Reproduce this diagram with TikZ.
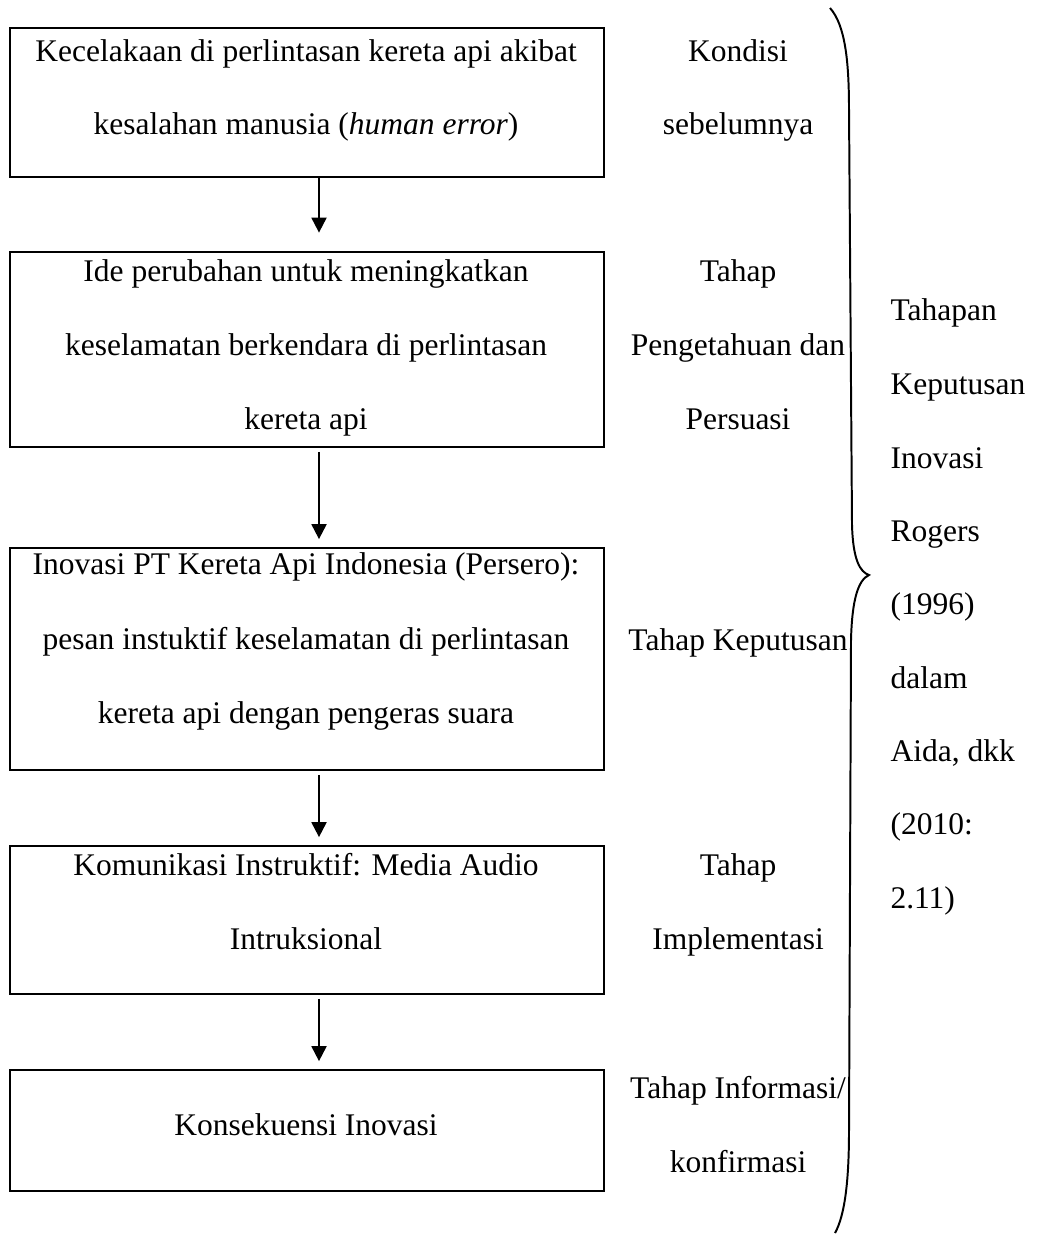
\documentclass[tikz,border=0pt]{standalone}
\usepackage{fontspec}
\setmainfont{Liberation Serif}
\usetikzlibrary{arrows.meta}
\def\px{0.381pt}

\begin{document}
\begin{tikzpicture}[x=\px, y=-\px,
  font=\fontsize{12pt}{14pt}\selectfont,
  stagebox/.style={draw, line width=0.75pt, anchor=north west, minimum width=594*\px, inner sep=0pt},
  txt/.style={anchor=base, inner sep=0pt},
  note/.style={anchor=base west, inner sep=0pt},
  flowarrow/.style={-{Triangle[length=5.7pt, width=5.7pt]}, line width=0.75pt}]
\useasboundingbox (0,0) rectangle (1036,1234);

% boxes
\node[stagebox, minimum height=149*\px] (b1) at (9,27) {};
\node[stagebox, minimum height=195*\px] (b2) at (9,251) {};
\node[stagebox, minimum height=222*\px] (b3) at (9,547) {};
\node[stagebox, minimum height=148*\px] (b4) at (9,845) {};
\node[stagebox, minimum height=121*\px] (b5) at (9,1069) {};

% box texts
\node[txt] (t1a) at (306,62) {Kecelakaan di perlintasan kereta api akibat};
\node[txt] (t1b) at (306,135) {kesalahan manusia (\textit{human error})};
\node[txt] (t2a) at (306,282) {Ide perubahan untuk meningkatkan};
\node[txt] (t2b) at (306,356) {keselamatan berkendara di perlintasan};
\node[txt] (t2c) at (306,429) {kereta api};
\node[txt] (t3a) at (306,574) {Inovasi PT Kereta Api Indonesia (Persero):};
\node[txt] (t3b) at (306,649) {pesan instuktif keselamatan di perlintasan};
\node[txt] (t3c) at (306,723) {kereta api dengan pengeras suara};
\node[txt] (t4a) at (306,875) {Komunikasi Instruktif: Media Audio};
\node[txt] (t4b) at (306,949) {Intruksional};
\node[txt] (t5a) at (306,1135) {Konsekuensi Inovasi};

% stage labels
\node[txt] (s1a) at (738,62) {Kondisi};
\node[txt] (s1b) at (738,135) {sebelumnya};
\node[txt] (s2a) at (738,282) {Tahap};
\node[txt] (s2b) at (738,356) {Pengetahuan dan};
\node[txt] (s2c) at (738,429) {Persuasi};
\node[txt] (s3a) at (738,650) {Tahap Keputusan};
\node[txt] (s4a) at (738,875) {Tahap};
\node[txt] (s4b) at (738,949) {Implementasi};
\node[txt] (s5a) at (738,1098) {Tahap Informasi/};
\node[txt] (s5b) at (738,1172) {konfirmasi};

% source
\node[note] (r1) at (890,321) {Tahapan};
\node[note] (r2) at (890,394) {Keputusan};
\node[note] (r3) at (890,468) {Inovasi};
\node[note] (r4) at (890,541) {Rogers};
\node[note] (r5) at (890,614) {(1996)};
\node[note] (r6) at (890,688) {dalam};
\node[note] (r7) at (890,761) {Aida, dkk};
\node[note] (r8) at (890,834) {(2010:};
\node[note] (r9) at (890,908) {2.11)};

% arrows
\coordinate (ax) at (319,0);
\draw[flowarrow, shorten >=7pt] (b1.south -| ax) -- (b2.north -| ax);
\draw[flowarrow, shorten <=1.5pt, shorten >=3pt] (b2.south -| ax) -- (b3.north -| ax);
\draw[flowarrow, shorten <=1.5pt, shorten >=3pt] (b3.south -| ax) -- (b4.north -| ax);
\draw[flowarrow, shorten <=1.5pt, shorten >=3pt] (b4.south -| ax) -- (b5.north -| ax);

% brace
\draw[line width=0.75pt] (830,8) .. controls (845,25) and (849,60) .. (849,110)
  -- (852,525) .. controls (853,560) and (860,572) .. (869,575)
  .. controls (858,580) and (852,600) .. (851,640)
  -- (849,1130) .. controls (849,1180) and (845,1215) .. (835,1233);
\end{tikzpicture}
\end{document}
